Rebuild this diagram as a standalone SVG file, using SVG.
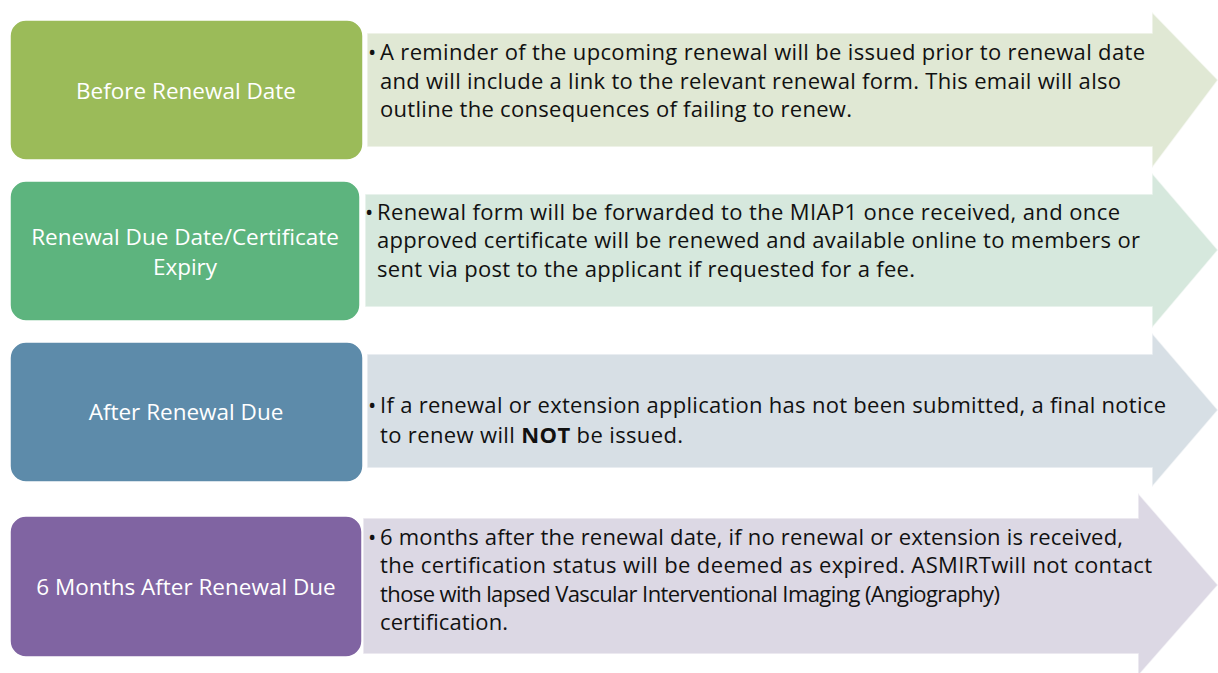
<svg xmlns="http://www.w3.org/2000/svg" width="1218" height="673" viewBox="0 0 1218 673">
<style>
.lbl{font-family:"Open Sans","Noto Sans",sans-serif;font-size:22.5px;fill:#ffffff;text-anchor:middle}
.txt{font-family:"Open Sans","Noto Sans",sans-serif;font-size:22px;fill:#111111}
.arrow{stroke:#ffffff;stroke-opacity:0.6;stroke-width:1.5}
.box{stroke:#ffffff;stroke-width:1.5}
</style>
<rect width="1218" height="673" fill="#ffffff"/>
<g id="connectors">
<path class="arrow" d="M367,33 H1152 V12 L1218,80 L1152,168 V147 H367 Z" fill="#E0E8D4"/>
<path class="arrow" d="M365,194 H1152 V173 L1218,250 L1152,328 V307 H365 Z" fill="#D6E8DD"/>
<path class="arrow" d="M367,354 H1152 V333 L1218,410 L1152,487 V468 H367 Z" fill="#D7DFE5"/>
<path class="arrow" d="M363,518 H1138 V493 L1218,585 L1138,676 V654 H363 Z" fill="#DCD8E4"/>
</g>
<g id="node1">
<rect class="box" x="10" y="20" width="353" height="140" rx="16" fill="#9BBB59"/>
<text class="lbl" x="186" y="99">Before Renewal Date</text>
<text class="txt"><tspan x="368" y="60">•</tspan></text>
<text class="txt" x="380" y="60" textLength="765">A reminder of the upcoming renewal will be issued prior to renewal date</text>
<text class="txt" x="380" y="89" textLength="741">and will include a link to the relevant renewal form. This email will also</text>
<text class="txt" x="380" y="117" textLength="472">outline the consequences of failing to renew.</text>
</g>
<g id="node2">
<rect class="box" x="10" y="181" width="350" height="140" rx="16" fill="#5DB47E"/>
<text class="lbl" x="185" y="245">Renewal Due Date/Certificate</text>
<text class="lbl" x="185" y="275">Expiry</text>
<text class="txt"><tspan x="365" y="220">•</tspan></text>
<text class="txt" x="377" y="220" textLength="743">Renewal form will be forwarded to the MIAP1 once received, and once</text>
<text class="txt" x="377" y="248" textLength="763">approved certificate will be renewed and available online to members or</text>
<text class="txt" x="377" y="277" textLength="538">sent via post to the applicant if requested for a fee.</text>
</g>
<g id="node3">
<rect class="box" x="10" y="342" width="353" height="140" rx="16" fill="#5D8BAA"/>
<text class="lbl" x="186" y="420">After Renewal Due</text>
<text class="txt"><tspan x="368" y="413">•</tspan></text>
<text class="txt" x="380" y="413" textLength="786">If a renewal or extension application has not been submitted, a final notice</text>
<text class="txt" x="380" y="443" textLength="303">to renew will <tspan font-weight="bold">NOT</tspan> be issued.</text>
</g>
<g id="node4">
<rect class="box" x="10" y="516" width="352" height="141" rx="16" fill="#8064A2"/>
<text class="lbl" x="186" y="595">6 Months After Renewal Due</text>
<text class="txt"><tspan x="368" y="545">•</tspan></text>
<text class="txt" x="380" y="545" textLength="743">6 months after the renewal date, if no renewal or extension is received,</text>
<text class="txt" x="380" y="573" textLength="772">the certification status will be deemed as expired. ASMIRTwill not contact</text>
<text class="txt" x="380" y="602" textLength="620">those with lapsed Vascular Interventional Imaging (Angiography)</text>
<text class="txt" x="380" y="630" textLength="128">certification.</text>
</g>
</svg>
